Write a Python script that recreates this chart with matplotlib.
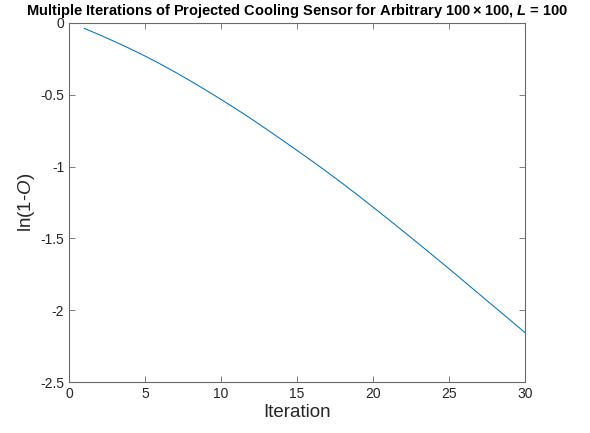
import numpy as np
import matplotlib
matplotlib.use("Agg")
import matplotlib.pyplot as plt

plt.rcParams['font.family'] = ['Liberation Sans', 'DejaVu Sans']
plt.rcParams['mathtext.fontset'] = 'custom'
plt.rcParams['mathtext.rm'] = 'Liberation Sans'
plt.rcParams['mathtext.it'] = 'Liberation Sans:italic'
plt.rcParams['mathtext.bf'] = 'Liberation Sans:bold'
plt.rcParams['mathtext.bfit'] = 'Liberation Sans:italic:bold'

# values
iterations = np.arange(1, 31)
log_values = [-0.037, -0.082, -0.129, -0.178, -0.230, -0.285, -0.343, -0.404,
              -0.467, -0.532, -0.599, -0.668, -0.740, -0.813, -0.887, -0.962,
              -1.039, -1.118, -1.199, -1.282, -1.366, -1.451, -1.537, -1.624,
              -1.711, -1.800, -1.889, -1.978, -2.067, -2.156]
xticks = [0, 5, 10, 15, 20, 25, 30]
yticks = [0, -0.5, -1, -1.5, -2, -2.5]
ytick_labels = ['0', '-0.5', '-1', '-1.5', '-2', '-2.5']

fig = plt.figure(figsize=(5.9, 4.33), dpi=100)
ax = fig.add_axes([69 / 590, 51 / 433, 456 / 590, 359 / 433])

ax.plot(iterations, log_values, color='#0072BD', linewidth=0.75)

ax.set_xlim(0, 30)
ax.set_ylim(-2.5, 0)
ax.set_xticks(xticks)
ax.set_yticks(yticks)
ax.set_yticklabels(ytick_labels)

axis_col = '#6a6a6a'
for s in ax.spines.values():
    s.set_color(axis_col)
    s.set_linewidth(0.8)
ax.tick_params(direction='in', length=4, width=0.6, color=axis_col,
               labelcolor='#262626', labelsize=10, top=True, right=True)

ax.set_xlabel('Iteration', fontsize=13.5, color='#262626', labelpad=2)
ax.set_ylabel('ln(1-$O$)', fontsize=13.5, color='#262626', labelpad=2)
ax.set_title('Multiple Iterations of Projected Cooling Sensor for Arbitrary '
             '100\u2009\u00d7\u2009100, $\\mathbfit{L}$ = 100',
             fontsize=10.5, fontweight='bold', pad=6)

fig.savefig('out.png', dpi=100)
